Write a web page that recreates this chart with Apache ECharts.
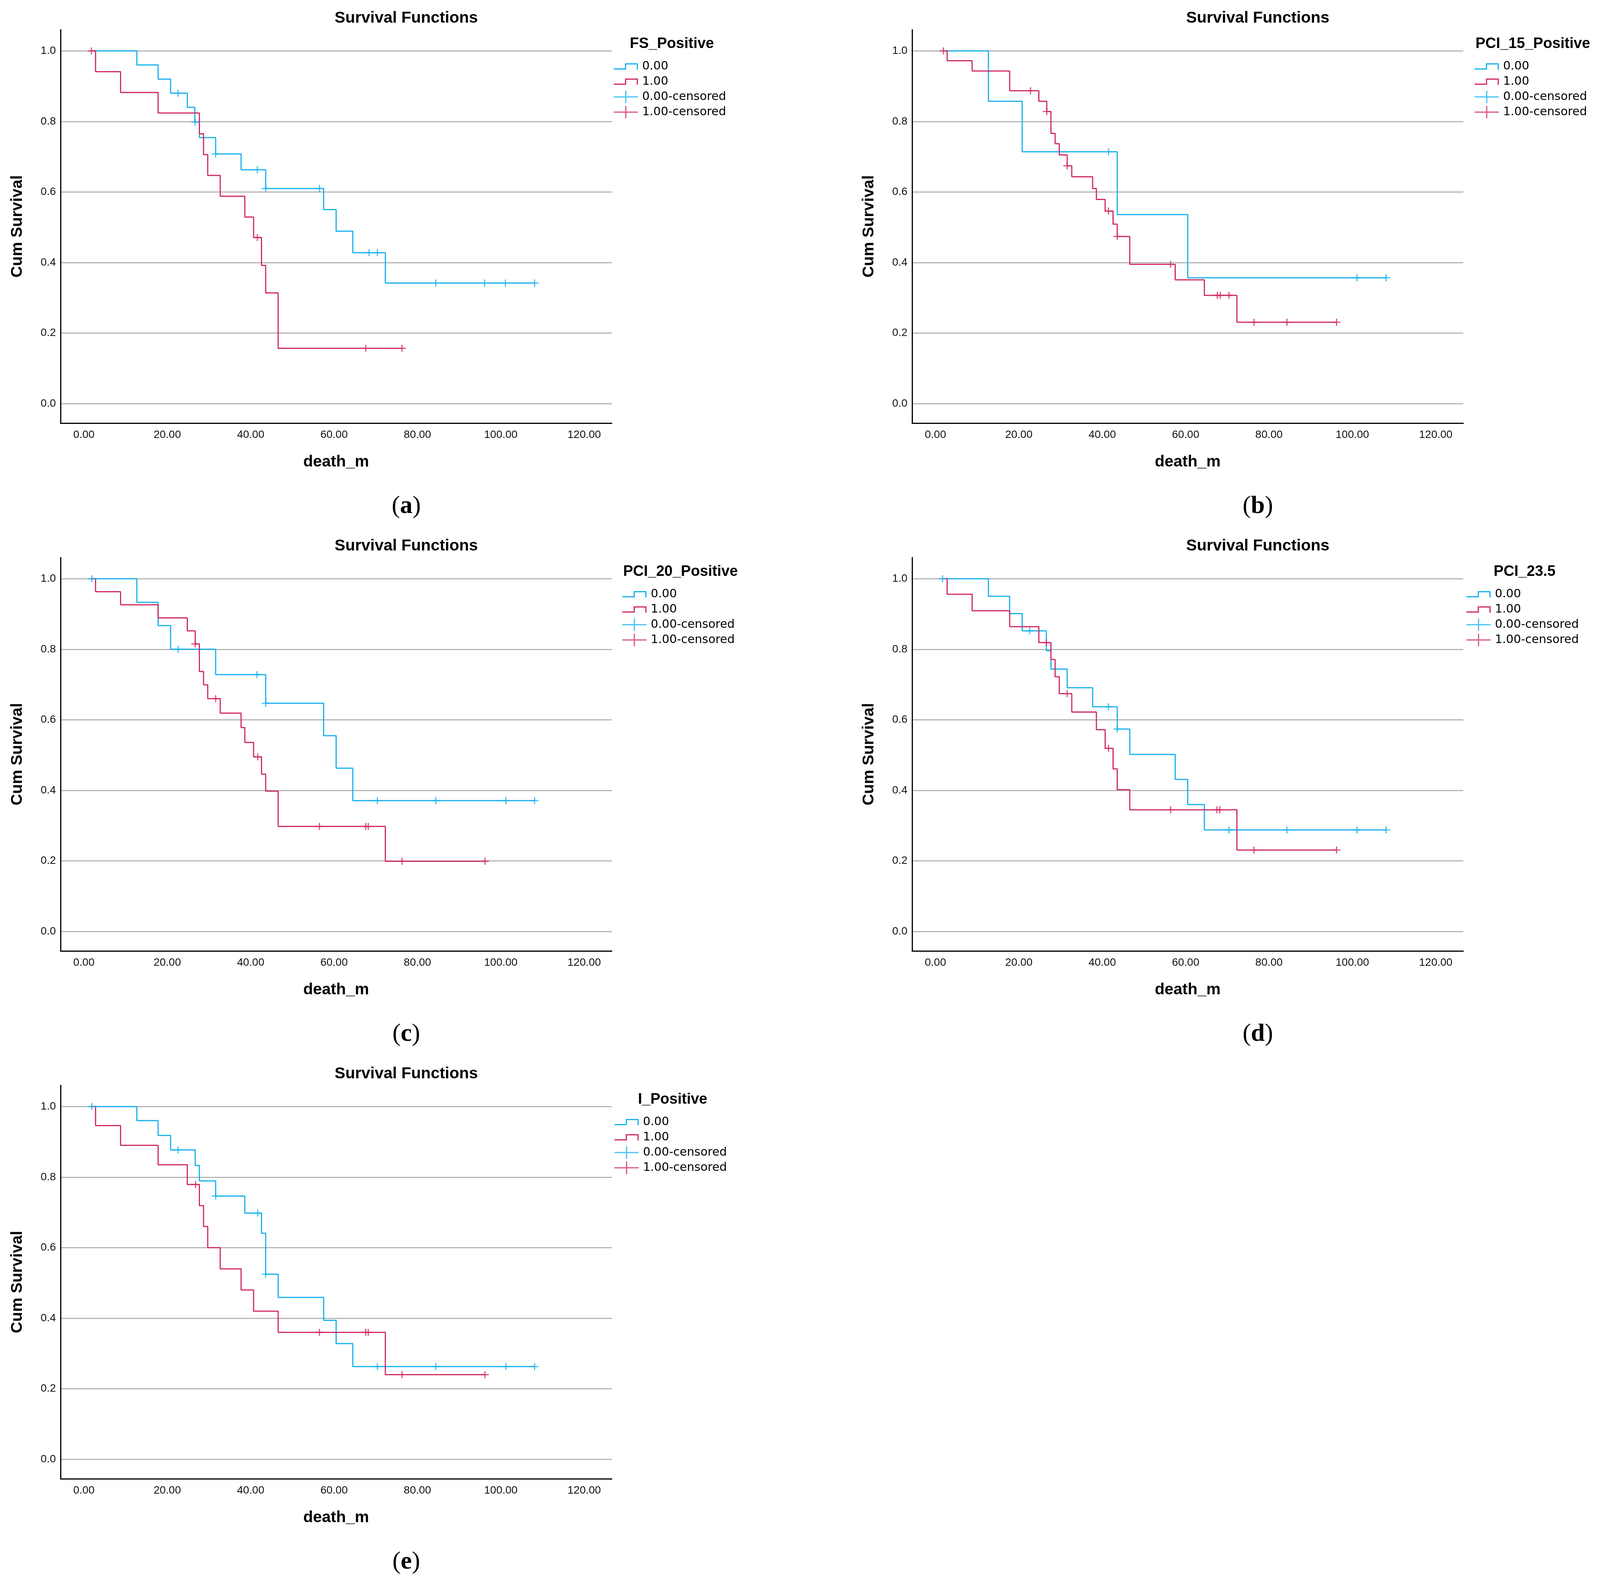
<!DOCTYPE html>
<html>
<head>
<meta charset="utf-8">
<script src="https://cdn.jsdelivr.net/npm/echarts@6/dist/echarts.min.js"></script>
<style>
  html, body { margin: 0; padding: 0; background: #fff; }
  #chart { width: 4106px; height: 4062px; }
</style>
</head>
<body>
<div id="chart"></div>
<script>
"use strict";

// axis ticks and legend entries
const xTicks = [0, 20, 40, 60, 80, 100, 120];
const yTicks = [0, 0.2, 0.4, 0.6, 0.8, 1.0];
const groupNames = ["0.00", "1.00", "0.00-censored", "1.00-censored"];

// (a) FS_Positive
const fsTime0 = [1.8, 12.7, 17.8, 20.8, 24.8, 26.6, 27.7, 31.6, 37.7, 43.6, 57.5, 60.5, 64.5, 72.3, 108.1];
const fsSurv0 = [1.0, 0.960, 0.920, 0.880, 0.840, 0.798, 0.754, 0.708, 0.663, 0.610, 0.550, 0.489, 0.428, 0.342, 0.342];
const fsCens0 = [[22.6, 0.880], [26.7, 0.798], [31.6, 0.708], [41.6, 0.663], [43.6, 0.610], [56.5, 0.610],
  [68.4, 0.428], [70.4, 0.428], [84.4, 0.342], [96.1, 0.342], [101.1, 0.342], [108.1, 0.342]];
const fsTime1 = [1.8, 2.8, 8.8, 17.8, 27.7, 28.7, 29.7, 32.7, 38.6, 40.7, 42.6, 43.6, 46.6, 76.3];
const fsSurv1 = [1.0, 0.941, 0.882, 0.824, 0.765, 0.706, 0.647, 0.588, 0.529, 0.471, 0.392, 0.314, 0.157, 0.157];
const fsCens1 = [[1.8, 1.0], [41.6, 0.471], [67.6, 0.157], [76.3, 0.157]];

// (b) PCI_15_Positive
const p15Time0 = [1.8, 12.7, 20.8, 43.6, 60.5, 108.1];
const p15Surv0 = [1.0, 0.857, 0.714, 0.536, 0.357, 0.357];
const p15Cens0 = [[41.5, 0.714], [101.1, 0.357], [108.1, 0.357]];
const p15Time1 = [1.8, 2.8, 8.8, 17.8, 24.8, 26.7, 27.7, 28.7, 29.7, 31.6, 32.7, 37.7, 38.6, 40.7, 42.6, 43.6, 46.6, 57.5, 64.5, 72.3, 96.2];
const p15Surv1 = [1.0, 0.972, 0.943, 0.887, 0.857, 0.828, 0.766, 0.737, 0.705, 0.674, 0.643, 0.610, 0.579, 0.546, 0.509, 0.474, 0.395, 0.351, 0.307, 0.231, 0.231];
const p15Cens1 = [[1.9, 1.0], [22.8, 0.887], [26.7, 0.828], [31.6, 0.674], [41.5, 0.546], [43.6, 0.474], [56.4, 0.395],
  [67.6, 0.307], [68.3, 0.307], [70.4, 0.307], [76.4, 0.231], [84.3, 0.231], [96.2, 0.231]];

// (c) PCI_20_Positive
const p20Time0 = [1.8, 12.7, 17.8, 20.8, 31.6, 43.6, 57.5, 60.5, 64.5, 108.1];
const p20Surv0 = [1.0, 0.933, 0.867, 0.800, 0.728, 0.647, 0.555, 0.463, 0.371, 0.371];
const p20Cens0 = [[1.9, 1.0], [22.6, 0.800], [41.5, 0.728], [43.6, 0.647], [70.4, 0.371], [84.4, 0.371], [101.2, 0.371], [108.1, 0.371]];
const p20Time1 = [1.8, 2.8, 8.8, 17.8, 24.8, 26.7, 27.7, 28.7, 29.7, 32.7, 37.7, 38.6, 40.7, 42.6, 43.6, 46.6, 72.3, 96.2];
const p20Surv1 = [1.0, 0.963, 0.926, 0.889, 0.852, 0.815, 0.737, 0.699, 0.660, 0.619, 0.578, 0.536, 0.495, 0.446, 0.398, 0.298, 0.199, 0.199];
const p20Cens1 = [[26.7, 0.815], [31.6, 0.660], [41.7, 0.495], [56.5, 0.298], [67.6, 0.298], [68.2, 0.298], [76.3, 0.199], [96.2, 0.199]];

// (d) PCI_23.5
const p23Time0 = [1.8, 12.7, 17.8, 20.8, 26.6, 27.7, 31.6, 37.7, 43.6, 46.6, 57.5, 60.5, 64.5, 108.1];
const p23Surv0 = [1.0, 0.950, 0.901, 0.852, 0.796, 0.744, 0.691, 0.637, 0.574, 0.502, 0.431, 0.360, 0.288, 0.288];
const p23Cens0 = [[1.7, 1.0], [22.6, 0.852], [41.5, 0.637], [43.6, 0.574], [70.4, 0.288], [84.3, 0.288], [101.1, 0.288], [108.1, 0.288]];
const p23Time1 = [1.8, 2.8, 8.8, 17.8, 24.8, 27.7, 28.7, 29.7, 32.7, 38.6, 40.7, 42.6, 43.6, 46.6, 72.3, 96.2];
const p23Surv1 = [1.0, 0.956, 0.909, 0.864, 0.819, 0.771, 0.722, 0.674, 0.622, 0.572, 0.519, 0.461, 0.402, 0.345, 0.231, 0.231];
const p23Cens1 = [[26.6, 0.819], [31.6, 0.674], [41.5, 0.519], [56.4, 0.345], [67.5, 0.345], [68.2, 0.345], [76.4, 0.231], [96.2, 0.231]];

// (e) I_Positive
const iTime0 = [1.8, 12.7, 17.8, 20.8, 26.7, 27.7, 31.6, 38.6, 42.6, 43.6, 46.6, 57.5, 60.5, 64.5, 108.1];
const iSurv0 = [1.0, 0.960, 0.918, 0.877, 0.833, 0.789, 0.746, 0.698, 0.641, 0.525, 0.459, 0.394, 0.328, 0.263, 0.263];
const iCens0 = [[1.9, 1.0], [22.6, 0.877], [31.6, 0.746], [41.7, 0.698], [43.6, 0.525], [70.4, 0.263], [84.4, 0.263], [101.2, 0.263], [108.1, 0.263]];
const iTime1 = [1.8, 2.8, 8.8, 17.8, 24.8, 27.7, 28.7, 29.7, 32.7, 37.7, 40.7, 46.6, 72.3, 96.2];
const iSurv1 = [1.0, 0.946, 0.890, 0.835, 0.779, 0.719, 0.660, 0.600, 0.540, 0.480, 0.420, 0.360, 0.240, 0.240];
const iCens1 = [[26.8, 0.779], [56.5, 0.360], [67.6, 0.360], [68.2, 0.360], [76.3, 0.240], [96.2, 0.240]];

const BLUE = "#17b1ee";
const PINK = "#cf2962";
const FONT = "Liberation Sans";

// cross for censored cases, step & cross icons for the legend
const CROSS = "path://M-10,-1.5H10V1.5H-10Z M-1.5,-9H1.5V9H-1.5Z";
const CROSS_ICON = "path://M0,14.5H62V17.5H0Z M29.5,0H32.5V32H29.5Z";
const STEP_ICON = "path://M0,0 M62,32 M0,21H32V24H0Z M29,8H32V24H29Z M29,8H62V11H29Z M59,8H62V24H59Z";

const panels = [
  { tag: "a", group: "FS_Positive", t0: fsTime0, s0: fsSurv0, c0: fsCens0, t1: fsTime1, s1: fsSurv1, c1: fsCens1, col: 0, row: 0, legendLeft: 1571 },
  { tag: "b", group: "PCI_15_Positive", t0: p15Time0, s0: p15Surv0, c0: p15Cens0, t1: p15Time1, s1: p15Surv1, c1: p15Cens1, col: 1, row: 0, legendLeft: 3775 },
  { tag: "c", group: "PCI_20_Positive", t0: p20Time0, s0: p20Surv0, c0: p20Cens0, t1: p20Time1, s1: p20Surv1, c1: p20Cens1, col: 0, row: 1, legendLeft: 1593 },
  { tag: "d", group: "PCI_23.5", t0: p23Time0, s0: p23Surv0, c0: p23Cens0, t1: p23Time1, s1: p23Surv1, c1: p23Cens1, col: 1, row: 1, legendLeft: 3754 },
  { tag: "e", group: "I_Positive", t0: iTime0, s0: iSurv0, c0: iCens0, t1: iTime1, s1: iSurv1, c1: iCens1, col: 0, row: 2, legendLeft: 1573 },
];

const colLeft = [155, 2335];
const rowTop = [76, 1427, 2778];
const plotW = 1411;
const plotH = 1007;

const zip = (t, s) => t.map((x, i) => [x, s[i]]);

const grid = [], xAxis = [], yAxis = [], series = [], title = [], legend = [];

panels.forEach((p, i) => {
  const left = colLeft[p.col];
  const top = rowTop[p.row];

  grid.push({ left, top, width: plotW, height: plotH });

  xAxis.push({
    gridIndex: i,
    type: "value",
    min: -5.6,
    max: 126.6,
    axisLine: { show: true, onZero: false, lineStyle: { color: "#000", width: 3 } },
    axisTick: { show: false, customValues: xTicks },
    axisLabel: {
      customValues: xTicks,
      formatter: (v) => v.toFixed(2),
      fontFamily: FONT, fontSize: 28, color: "#111", margin: 16,
    },
    splitLine: { show: false },
    name: "death_m",
    nameLocation: "middle",
    nameGap: 79,
    nameTextStyle: { fontFamily: FONT, fontWeight: "bold", fontSize: 41, color: "#000" },
  });

  yAxis.push({
    gridIndex: i,
    type: "value",
    min: -0.055,
    max: 1.06,
    axisLine: { show: true, onZero: false, lineStyle: { color: "#000", width: 3 } },
    axisTick: { show: false, customValues: yTicks },
    axisLabel: {
      customValues: yTicks,
      formatter: (v) => v.toFixed(1),
      fontFamily: FONT, fontSize: 28, color: "#111", margin: 12,
    },
    splitLine: { show: true, lineStyle: { color: "#a9a9a9", width: 2.5 } },
    name: "Cum Survival",
    nameLocation: "middle",
    nameGap: 90,
    nameTextStyle: { fontFamily: FONT, fontWeight: "bold", fontSize: 41, color: "#000" },
  });

  // two step curves, then the censored crosses
  [[p.t0, p.s0, BLUE, 0], [p.t1, p.s1, PINK, 1]].forEach(([t, s, color, k]) => {
    series.push({
      type: "line",
      name: groupNames[k],
      xAxisIndex: i,
      yAxisIndex: i,
      data: zip(t, s),
      step: "end",
      symbol: "none",
      showSymbol: false,
      lineStyle: { color, width: 3 },
      itemStyle: { color },
      silent: true,
      z: 2 + k,
    });
  });
  [[p.c0, BLUE, 2], [p.c1, PINK, 3]].forEach(([c, color, k]) => {
    series.push({
      type: "scatter",
      name: groupNames[k],
      xAxisIndex: i,
      yAxisIndex: i,
      data: c,
      symbol: CROSS,
      symbolSize: [20, 18],
      symbolKeepAspect: false,
      itemStyle: { color },
      silent: true,
      z: 4,
    });
  });

  const center = left + 885;
  title.push({
    text: "Survival Functions",
    left: center,
    top: top - 29,
    textAlign: "center",
    textVerticalAlign: "middle",
    padding: 0,
    textStyle: { fontFamily: FONT, fontWeight: "bold", fontSize: 41, color: "#000" },
  });
  title.push({
    text: p.group,
    left: p.legendLeft + 149,
    top: top + 37,
    textAlign: "center",
    textVerticalAlign: "middle",
    padding: 0,
    textStyle: { fontFamily: FONT, fontWeight: "bold", fontSize: 38, color: "#000" },
  });
  title.push({
    text: "{p|(}{b|" + p.tag + "}{p|)}",
    left: center,
    top: top + 1220,
    textAlign: "center",
    textVerticalAlign: "middle",
    padding: 0,
    textStyle: {
      fontWeight: "normal",
      rich: {
        p: { fontFamily: "Liberation Serif", fontSize: 64, fontWeight: "normal", color: "#000" },
        b: { fontFamily: "Liberation Serif", fontSize: 64, fontWeight: "bold", color: "#000" },
      },
    },
  });

  legend.push({
    orient: "vertical",
    left: p.legendLeft,
    top: top + 78,
    padding: 0,
    itemWidth: 62,
    itemHeight: 32,
    itemGap: 7,
    selectedMode: false,
    itemStyle: { borderWidth: 0 },
    data: groupNames.map((n) => ({ name: n, icon: n.includes("censored") ? CROSS_ICON : STEP_ICON })),
    textStyle: { fontFamily: "DejaVu Sans", fontSize: 30, color: "#000", padding: [0, 0, 0, 6] },
  });
});

const chart = echarts.init(document.getElementById("chart"), null, { renderer: "canvas" });
chart.setOption({
  backgroundColor: "#fff",
  animation: false,
  title,
  legend,
  grid,
  xAxis,
  yAxis,
  series,
});
</script>
</body>
</html>
